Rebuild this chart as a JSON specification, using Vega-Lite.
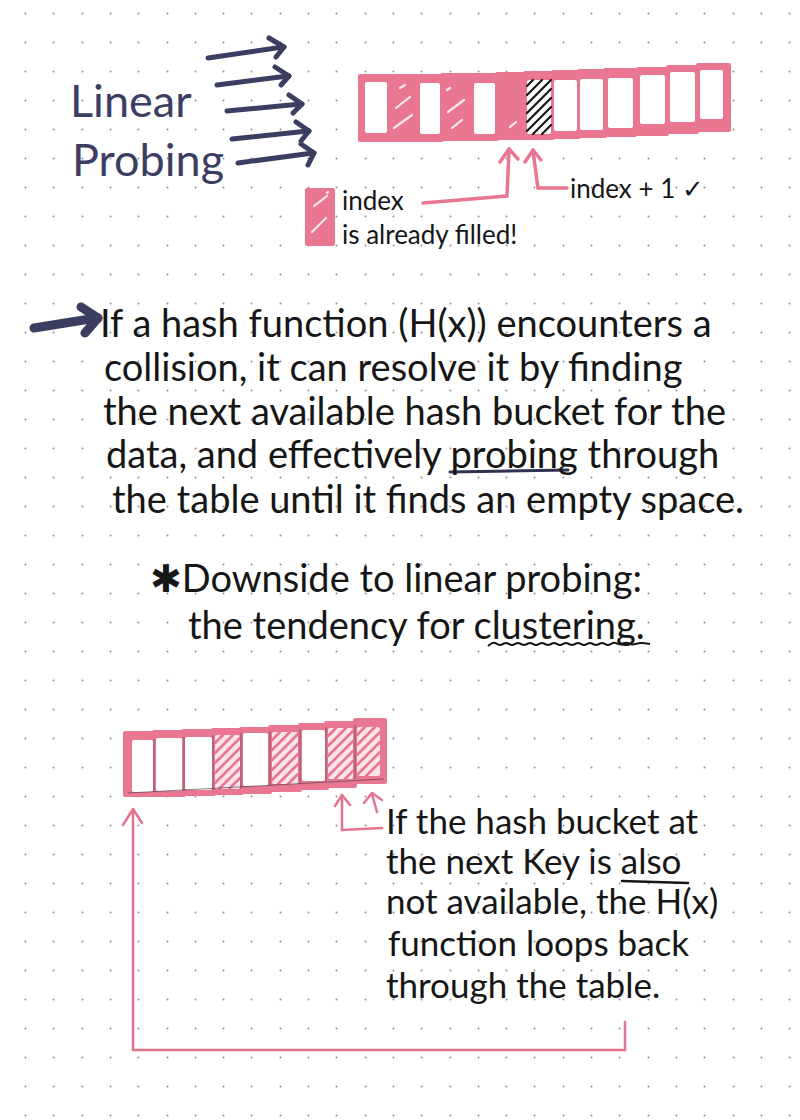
{
  "$schema": "https://vega.github.io/schema/vega-lite/v6.json",
  "width": 800,
  "height": 1120,
  "autosize": {"type": "fit", "contains": "padding"},
  "padding": 0,
  "background": "#ffffff",
  "datasets": {
    "rects": [
      {"part": "band", "x": 358, "x2": 391, "y": 74, "y2": 142},
      {"part": "band", "x": 387, "x2": 419, "y": 74, "y2": 142},
      {"part": "band", "x": 415, "x2": 444, "y": 74, "y2": 142},
      {"part": "band", "x": 440, "x2": 474, "y": 73, "y2": 141},
      {"part": "band", "x": 470, "x2": 499, "y": 73, "y2": 141},
      {"part": "band", "x": 495, "x2": 527, "y": 72, "y2": 140},
      {"part": "band", "x": 523, "x2": 555, "y": 71, "y2": 140},
      {"part": "band", "x": 551, "x2": 581, "y": 70, "y2": 139},
      {"part": "band", "x": 577, "x2": 607, "y": 69, "y2": 138},
      {"part": "band", "x": 603, "x2": 637, "y": 68, "y2": 137},
      {"part": "band", "x": 636, "x2": 669, "y": 67, "y2": 136},
      {"part": "band", "x": 666, "x2": 699, "y": 65, "y2": 134},
      {"part": "band", "x": 696, "x2": 731, "y": 63, "y2": 132},
      {"part": "empty", "x": 365, "x2": 387, "y": 82, "y2": 133},
      {"part": "empty", "x": 420, "x2": 440, "y": 83, "y2": 134},
      {"part": "empty", "x": 474, "x2": 495, "y": 83, "y2": 134},
      {"part": "empty", "x": 527, "x2": 551, "y": 80, "y2": 134},
      {"part": "empty", "x": 554, "x2": 577, "y": 80, "y2": 131},
      {"part": "empty", "x": 580, "x2": 603, "y": 79, "y2": 130},
      {"part": "empty", "x": 608, "x2": 633, "y": 78, "y2": 128},
      {"part": "empty", "x": 640, "x2": 665, "y": 75, "y2": 124},
      {"part": "empty", "x": 670, "x2": 695, "y": 72, "y2": 122},
      {"part": "empty", "x": 700, "x2": 723, "y": 70, "y2": 119},
      {"part": "band", "x": 305, "x2": 335, "y": 188, "y2": 246},
      {"part": "band", "x": 123, "x2": 157, "y": 731, "y2": 797},
      {"part": "band", "x": 152, "x2": 186, "y": 730, "y2": 797},
      {"part": "band", "x": 181, "x2": 216, "y": 729, "y2": 796},
      {"part": "band", "x": 211, "x2": 244, "y": 728, "y2": 795},
      {"part": "band", "x": 239, "x2": 272, "y": 727, "y2": 794},
      {"part": "band", "x": 268, "x2": 302, "y": 725, "y2": 792},
      {"part": "band", "x": 298, "x2": 329, "y": 723, "y2": 790},
      {"part": "band", "x": 324, "x2": 357, "y": 721, "y2": 788},
      {"part": "band", "x": 353, "x2": 387, "y": 718, "y2": 784},
      {"part": "empty", "x": 132, "x2": 153, "y": 740, "y2": 792},
      {"part": "empty", "x": 156, "x2": 182, "y": 738, "y2": 791},
      {"part": "empty", "x": 185, "x2": 212, "y": 737, "y2": 790},
      {"part": "light", "x": 215, "x2": 240, "y": 735, "y2": 789},
      {"part": "empty", "x": 243, "x2": 268, "y": 733, "y2": 786},
      {"part": "light", "x": 272, "x2": 298, "y": 732, "y2": 784},
      {"part": "empty", "x": 302, "x2": 325, "y": 730, "y2": 781},
      {"part": "light", "x": 328, "x2": 353, "y": 728, "y2": 779},
      {"part": "light", "x": 357, "x2": 380, "y": 727, "y2": 776}
    ],
    "strokes": [
      {"kind": "navy", "x": 208, "y": 58, "x2": 283, "y2": 47},
      {"kind": "navy", "x": 269, "y": 38, "x2": 284, "y2": 47},
      {"kind": "navy", "x": 284, "y": 47, "x2": 276, "y2": 57},
      {"kind": "navy", "x": 217, "y": 85, "x2": 288, "y2": 76},
      {"kind": "navy", "x": 275, "y": 67, "x2": 289, "y2": 76},
      {"kind": "navy", "x": 289, "y": 76, "x2": 281, "y2": 85},
      {"kind": "navy", "x": 227, "y": 111, "x2": 301, "y2": 104},
      {"kind": "navy", "x": 289, "y": 95, "x2": 302, "y2": 104},
      {"kind": "navy", "x": 302, "y": 104, "x2": 293, "y2": 113},
      {"kind": "navy", "x": 232, "y": 139, "x2": 308, "y2": 131},
      {"kind": "navy", "x": 296, "y": 122, "x2": 309, "y2": 131},
      {"kind": "navy", "x": 309, "y": 131, "x2": 301, "y2": 141},
      {"kind": "navy", "x": 238, "y": 163, "x2": 313, "y2": 153},
      {"kind": "navy", "x": 301, "y": 144, "x2": 314, "y2": 153},
      {"kind": "navy", "x": 314, "y": 153, "x2": 308, "y2": 165},
      {"kind": "navyBold", "x": 34, "y": 328, "x2": 90, "y2": 319},
      {"kind": "navyBold", "x": 81, "y": 307, "x2": 98, "y2": 318},
      {"kind": "navyBold", "x": 98, "y": 318, "x2": 85, "y2": 333},
      {"kind": "navyThin", "x": 450, "y": 472, "x2": 568, "y2": 470},
      {"kind": "pink", "x": 423, "y": 203, "x2": 507, "y2": 196},
      {"kind": "pink", "x": 507, "y": 196, "x2": 509, "y2": 150},
      {"kind": "pink", "x": 500, "y": 162, "x2": 509, "y2": 149},
      {"kind": "pink", "x": 509, "y": 149, "x2": 518, "y2": 159},
      {"kind": "pink", "x": 567, "y": 188, "x2": 538, "y2": 188},
      {"kind": "pink", "x": 538, "y": 188, "x2": 533, "y2": 151},
      {"kind": "pink", "x": 525, "y": 162, "x2": 533, "y2": 150},
      {"kind": "pink", "x": 533, "y": 150, "x2": 541, "y2": 160},
      {"kind": "pinkThin", "x": 133, "y": 1050, "x2": 133, "y2": 810},
      {"kind": "pinkThin", "x": 133, "y": 1050, "x2": 625, "y2": 1050},
      {"kind": "pinkThin", "x": 625, "y": 1050, "x2": 625, "y2": 1022},
      {"kind": "pinkThin", "x": 123, "y": 825, "x2": 133, "y2": 809},
      {"kind": "pinkThin", "x": 133, "y": 809, "x2": 142, "y2": 823},
      {"kind": "pinkThin", "x": 342, "y": 830, "x2": 342, "y2": 796},
      {"kind": "pinkThin", "x": 342, "y": 830, "x2": 382, "y2": 828},
      {"kind": "pinkThin", "x": 335, "y": 806, "x2": 342, "y2": 795},
      {"kind": "pinkThin", "x": 342, "y": 795, "x2": 350, "y2": 805},
      {"kind": "pinkThin", "x": 377, "y": 812, "x2": 372, "y2": 794},
      {"kind": "pinkThin", "x": 364, "y": 803, "x2": 372, "y2": 793},
      {"kind": "pinkThin", "x": 372, "y": 793, "x2": 382, "y2": 800},
      {"kind": "black", "x": 622, "y": 881, "x2": 688, "y2": 883},
      {"kind": "blackHatch", "x": 527, "y": 86, "x2": 533, "y2": 80},
      {"kind": "blackHatch", "x": 527, "y": 95, "x2": 542, "y2": 80},
      {"kind": "blackHatch", "x": 527, "y": 104, "x2": 551, "y2": 80},
      {"kind": "blackHatch", "x": 527, "y": 113, "x2": 551, "y2": 89},
      {"kind": "blackHatch", "x": 527, "y": 122, "x2": 551, "y2": 98},
      {"kind": "blackHatch", "x": 527, "y": 131, "x2": 551, "y2": 107},
      {"kind": "blackHatch", "x": 533, "y": 134, "x2": 551, "y2": 116},
      {"kind": "blackHatch", "x": 542, "y": 134, "x2": 551, "y2": 125},
      {"kind": "white", "x": 396, "y": 108, "x2": 410, "y2": 97},
      {"kind": "white", "x": 394, "y": 128, "x2": 412, "y2": 115},
      {"kind": "white", "x": 400, "y": 88, "x2": 405, "y2": 85},
      {"kind": "white", "x": 448, "y": 112, "x2": 464, "y2": 100},
      {"kind": "white", "x": 452, "y": 128, "x2": 462, "y2": 120},
      {"kind": "white", "x": 447, "y": 90, "x2": 450, "y2": 88},
      {"kind": "white", "x": 510, "y": 127, "x2": 516, "y2": 122},
      {"kind": "white", "x": 312, "y": 232, "x2": 326, "y2": 218},
      {"kind": "white", "x": 314, "y": 206, "x2": 327, "y2": 196},
      {"kind": "white", "x": 327, "y": 193, "x2": 328, "y2": 192},
      {"kind": "pinkHatch", "x": 215, "y": 743, "x2": 223, "y2": 735},
      {"kind": "pinkHatch", "x": 215, "y": 753, "x2": 233, "y2": 735},
      {"kind": "pinkHatch", "x": 215, "y": 763, "x2": 240, "y2": 738},
      {"kind": "pinkHatch", "x": 215, "y": 773, "x2": 240, "y2": 748},
      {"kind": "pinkHatch", "x": 215, "y": 783, "x2": 240, "y2": 758},
      {"kind": "pinkHatch", "x": 219, "y": 789, "x2": 240, "y2": 768},
      {"kind": "pinkHatch", "x": 229, "y": 789, "x2": 240, "y2": 778},
      {"kind": "pinkHatch", "x": 272, "y": 740, "x2": 280, "y2": 732},
      {"kind": "pinkHatch", "x": 272, "y": 750, "x2": 290, "y2": 732},
      {"kind": "pinkHatch", "x": 272, "y": 760, "x2": 298, "y2": 734},
      {"kind": "pinkHatch", "x": 272, "y": 770, "x2": 298, "y2": 744},
      {"kind": "pinkHatch", "x": 272, "y": 780, "x2": 298, "y2": 754},
      {"kind": "pinkHatch", "x": 278, "y": 784, "x2": 298, "y2": 764},
      {"kind": "pinkHatch", "x": 288, "y": 784, "x2": 298, "y2": 774},
      {"kind": "pinkHatch", "x": 328, "y": 736, "x2": 336, "y2": 728},
      {"kind": "pinkHatch", "x": 328, "y": 746, "x2": 346, "y2": 728},
      {"kind": "pinkHatch", "x": 328, "y": 756, "x2": 353, "y2": 731},
      {"kind": "pinkHatch", "x": 328, "y": 766, "x2": 353, "y2": 741},
      {"kind": "pinkHatch", "x": 328, "y": 776, "x2": 353, "y2": 751},
      {"kind": "pinkHatch", "x": 335, "y": 779, "x2": 353, "y2": 761},
      {"kind": "pinkHatch", "x": 345, "y": 779, "x2": 353, "y2": 771},
      {"kind": "pinkHatch", "x": 357, "y": 735, "x2": 365, "y2": 727},
      {"kind": "pinkHatch", "x": 357, "y": 745, "x2": 375, "y2": 727},
      {"kind": "pinkHatch", "x": 357, "y": 755, "x2": 380, "y2": 732},
      {"kind": "pinkHatch", "x": 357, "y": 765, "x2": 380, "y2": 742},
      {"kind": "pinkHatch", "x": 357, "y": 775, "x2": 380, "y2": 752},
      {"kind": "pinkHatch", "x": 366, "y": 776, "x2": 380, "y2": 762},
      {"kind": "pencil", "x": 154, "y": 739, "x2": 154, "y2": 792},
      {"kind": "pencil", "x": 184, "y": 737, "x2": 184, "y2": 791},
      {"kind": "pencil", "x": 213, "y": 735, "x2": 213, "y2": 790},
      {"kind": "pencil", "x": 241, "y": 733, "x2": 241, "y2": 789},
      {"kind": "pencil", "x": 270, "y": 731, "x2": 270, "y2": 786},
      {"kind": "pencil", "x": 300, "y": 729, "x2": 300, "y2": 784},
      {"kind": "pencil", "x": 326, "y": 727, "x2": 326, "y2": 781},
      {"kind": "pencil", "x": 355, "y": 725, "x2": 355, "y2": 779},
      {"kind": "pencil", "x": 128, "y": 793, "x2": 384, "y2": 779}
    ],
    "wave": [
      {"x": 488, "y": 646}, {"x": 494, "y": 641}, {"x": 500, "y": 647},
      {"x": 506, "y": 641}, {"x": 512, "y": 647}, {"x": 518, "y": 641},
      {"x": 524, "y": 647}, {"x": 530, "y": 641}, {"x": 536, "y": 647},
      {"x": 542, "y": 641}, {"x": 548, "y": 647}, {"x": 554, "y": 641},
      {"x": 560, "y": 647}, {"x": 566, "y": 641}, {"x": 572, "y": 647},
      {"x": 578, "y": 641}, {"x": 584, "y": 647}, {"x": 590, "y": 641},
      {"x": 596, "y": 647}, {"x": 602, "y": 641}, {"x": 608, "y": 647},
      {"x": 614, "y": 641}, {"x": 620, "y": 646}, {"x": 626, "y": 641},
      {"x": 632, "y": 646}, {"x": 640, "y": 642}, {"x": 650, "y": 644}
    ],
    "texts": [
      {"group": "title", "label": "Linear", "x": 70, "y": 117},
      {"group": "title", "label": "Probing", "x": 72, "y": 176},
      {"group": "legend", "label": "index", "x": 342, "y": 210},
      {"group": "legend", "label": "is already filled!", "x": 342, "y": 244},
      {"group": "legend", "label": "index + 1 ✓", "x": 570, "y": 198},
      {"group": "body", "label": "If a hash function (H(x)) encounters a", "x": 100, "y": 337},
      {"group": "body", "label": "collision, it can resolve it by finding", "x": 104, "y": 381},
      {"group": "body", "label": "the next available hash bucket for the", "x": 103, "y": 425},
      {"group": "body", "label": "data, and effectively probing through", "x": 106, "y": 468},
      {"group": "body", "label": "the table until it finds an empty space.", "x": 112, "y": 513},
      {"group": "body", "label": "✱Downside to linear probing:", "x": 150, "y": 592},
      {"group": "body", "label": "the tendency for clustering.", "x": 188, "y": 639},
      {"group": "note", "label": "If the hash bucket at", "x": 386, "y": 834},
      {"group": "note", "label": "the next Key is also", "x": 386, "y": 874},
      {"group": "note", "label": "not available, the H(x)", "x": 386, "y": 914},
      {"group": "note", "label": "function loops back", "x": 388, "y": 956},
      {"group": "note", "label": "through the table.", "x": 386, "y": 998}
    ]
  },
  "encoding": {
    "x": {
      "field": "x",
      "type": "quantitative",
      "scale": {"domain": [0, 800], "nice": false, "zero": false},
      "axis": {
        "orient": "top",
        "values": [25, 53.3, 81.6, 109.9, 138.2, 166.5, 194.8, 223.1, 251.4, 279.7, 308, 336.3, 364.6, 392.9, 421.2, 449.5, 477.8, 506.1, 534.4, 562.7, 591, 619.3, 647.6, 675.9, 704.2, 732.5, 760.8, 789.1],
        "grid": true,
        "gridColor": "#7d6272",
        "gridOpacity": 0.75,
        "gridWidth": 2,
        "gridCap": "round",
        "gridDash": [0.1, 28.9],
        "gridDashOffset": 16,
        "labels": false,
        "ticks": false,
        "domain": false,
        "title": null
      }
    },
    "y": {
      "field": "y",
      "type": "quantitative",
      "scale": {"domain": [0, 1120], "nice": false, "zero": false, "reverse": true},
      "axis": null
    }
  },
  "layer": [
    {
      "data": {"name": "rects"},
      "mark": {"type": "rect", "cornerRadius": 2},
      "encoding": {
        "x2": {"field": "x2"},
        "y2": {"field": "y2"},
        "fill": {
          "field": "part",
          "type": "nominal",
          "scale": {"domain": ["band", "empty", "light"], "range": ["#ea7792", "#ffffff", "#fbe4ea"]},
          "legend": null
        }
      }
    },
    {
      "data": {"name": "strokes"},
      "transform": [{"filter": "datum.kind == 'pinkHatch'"}],
      "mark": {"type": "rule", "color": "#e9768f", "strokeWidth": 2.6, "strokeCap": "round"},
      "encoding": {"x2": {"field": "x2"}, "y2": {"field": "y2"}}
    },
    {
      "data": {"name": "strokes"},
      "transform": [{"filter": "datum.kind == 'pencil'"}],
      "mark": {"type": "rule", "color": "#5b4452", "strokeWidth": 1, "opacity": 0.7},
      "encoding": {"x2": {"field": "x2"}, "y2": {"field": "y2"}}
    },
    {
      "data": {"name": "strokes"},
      "transform": [{"filter": "datum.kind == 'white'"}],
      "mark": {"type": "rule", "color": "#fbe9ee", "strokeWidth": 2.2, "strokeCap": "round"},
      "encoding": {"x2": {"field": "x2"}, "y2": {"field": "y2"}}
    },
    {
      "data": {"name": "strokes"},
      "transform": [{"filter": "datum.kind == 'blackHatch'"}],
      "mark": {"type": "rule", "color": "#161616", "strokeWidth": 2.2, "strokeCap": "round"},
      "encoding": {"x2": {"field": "x2"}, "y2": {"field": "y2"}}
    },
    {
      "data": {"name": "strokes"},
      "transform": [{"filter": "datum.kind == 'navy'"}],
      "mark": {"type": "rule", "color": "#3b3e60", "strokeWidth": 5, "strokeCap": "round"},
      "encoding": {"x2": {"field": "x2"}, "y2": {"field": "y2"}}
    },
    {
      "data": {"name": "strokes"},
      "transform": [{"filter": "datum.kind == 'navyBold'"}],
      "mark": {"type": "rule", "color": "#3b3e60", "strokeWidth": 9, "strokeCap": "round"},
      "encoding": {"x2": {"field": "x2"}, "y2": {"field": "y2"}}
    },
    {
      "data": {"name": "strokes"},
      "transform": [{"filter": "datum.kind == 'navyThin'"}],
      "mark": {"type": "rule", "color": "#2f3250", "strokeWidth": 3, "strokeCap": "round"},
      "encoding": {"x2": {"field": "x2"}, "y2": {"field": "y2"}}
    },
    {
      "data": {"name": "strokes"},
      "transform": [{"filter": "datum.kind == 'pink'"}],
      "mark": {"type": "rule", "color": "#ea7792", "strokeWidth": 3.5, "strokeCap": "round"},
      "encoding": {"x2": {"field": "x2"}, "y2": {"field": "y2"}}
    },
    {
      "data": {"name": "strokes"},
      "transform": [{"filter": "datum.kind == 'pinkThin'"}],
      "mark": {"type": "rule", "color": "#e4738d", "strokeWidth": 2.5, "strokeCap": "round"},
      "encoding": {"x2": {"field": "x2"}, "y2": {"field": "y2"}}
    },
    {
      "data": {"name": "strokes"},
      "transform": [{"filter": "datum.kind == 'black'"}],
      "mark": {"type": "rule", "color": "#161616", "strokeWidth": 2.5, "strokeCap": "round"},
      "encoding": {"x2": {"field": "x2"}, "y2": {"field": "y2"}}
    },
    {
      "data": {"name": "wave"},
      "mark": {"type": "line", "color": "#161616", "strokeWidth": 2, "interpolate": "basis"},
      "encoding": {"order": {"field": "x", "type": "quantitative"}}
    },
    {
      "data": {"name": "texts"},
      "transform": [{"filter": "datum.group == 'title'"}],
      "mark": {"type": "text", "align": "left", "baseline": "alphabetic", "font": "Lato", "fontSize": 45, "color": "#3b3e60"},
      "encoding": {"text": {"field": "label"}}
    },
    {
      "data": {"name": "texts"},
      "transform": [{"filter": "datum.group == 'legend'"}],
      "mark": {"type": "text", "align": "left", "baseline": "alphabetic", "font": "Lato, DejaVu Sans", "fontSize": 26, "color": "#161616"},
      "encoding": {"text": {"field": "label"}}
    },
    {
      "data": {"name": "texts"},
      "transform": [{"filter": "datum.group == 'body'"}],
      "mark": {"type": "text", "align": "left", "baseline": "alphabetic", "font": "Lato, DejaVu Sans", "fontSize": 38, "color": "#161616"},
      "encoding": {"text": {"field": "label"}}
    },
    {
      "data": {"name": "texts"},
      "transform": [{"filter": "datum.group == 'note'"}],
      "mark": {"type": "text", "align": "left", "baseline": "alphabetic", "font": "Lato", "fontSize": 35, "color": "#161616"},
      "encoding": {"text": {"field": "label"}}
    }
  ],
  "config": {
    "view": {"stroke": null},
    "axis": {"grid": false}
  }
}
